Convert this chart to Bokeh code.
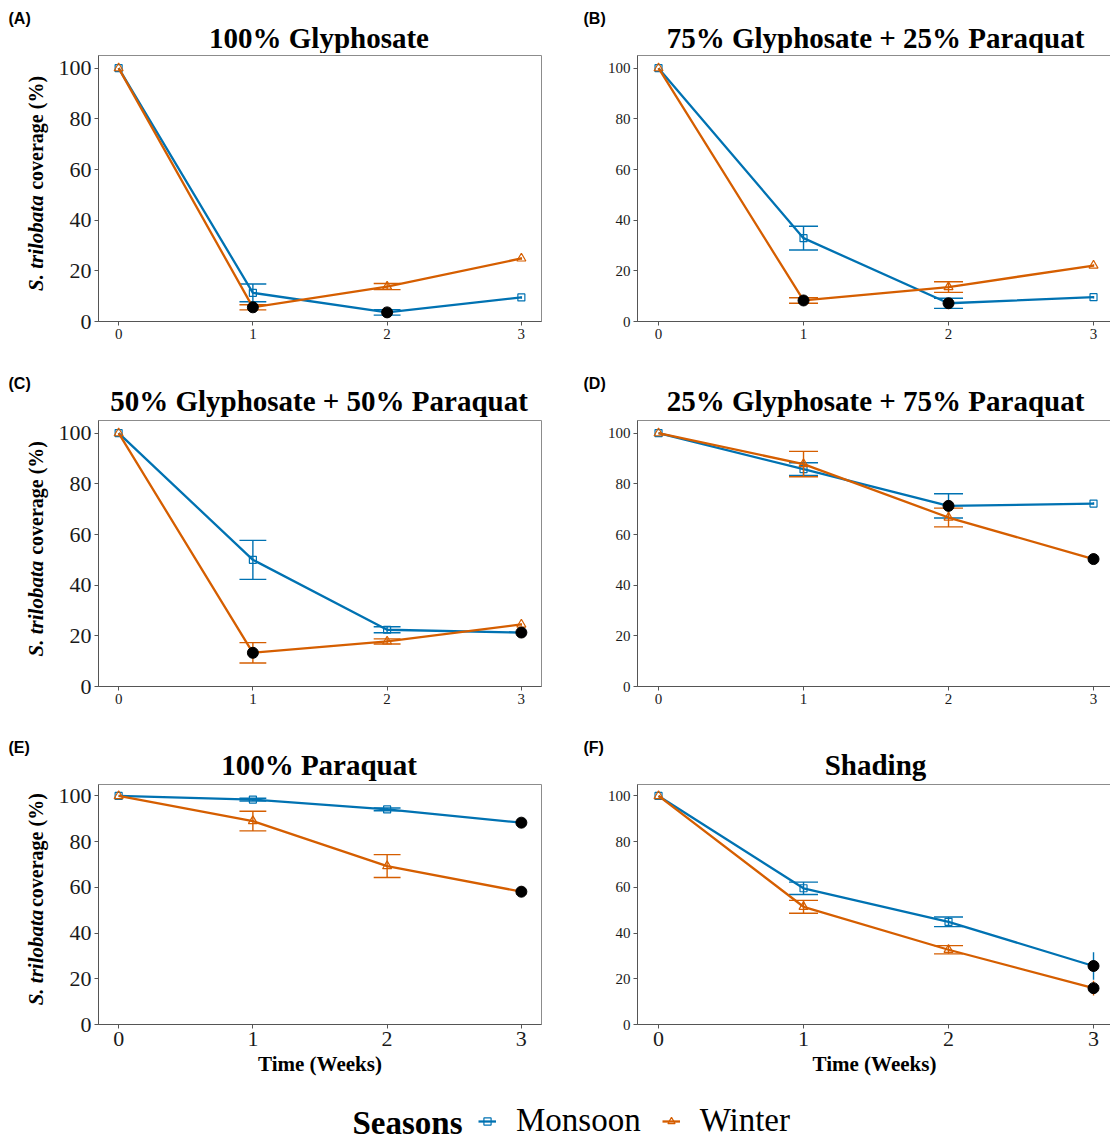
import math
from bokeh.plotting import figure
from bokeh.layouts import column, row
from bokeh.models import Range1d, FixedTicker, Label, Legend, LegendItem
from bokeh.embed import file_html
from bokeh.resources import INLINE

# ---------------- data ----------------
weeks = [0, 1, 2, 3]
y_ticks = [0, 20, 40, 60, 80, 100]
panel_tags = ["(A)", "(B)", "(C)", "(D)", "(E)", "(F)"]
titles = ["100% Glyphosate", "75% Glyphosate + 25% Paraquat",
          "50% Glyphosate + 50% Paraquat", "25% Glyphosate + 75% Paraquat",
          "100% Paraquat", "Shading"]
seasons = ["Monsoon", "Winter"]
y_label_italic = "S. trilobata"
y_label_plain = "coverage (%)"
x_label = "Time (Weeks)"
legend_title = "Seasons"

A_monsoon = [100, 11.3, 3.6, 9.5]
A_monsoon_se = [0, 3.5, 1.1, 0.5]
A_winter = [100, 5.6, 13.8, 24.9]
A_winter_se = [0, 1.0, 1.2, 0.5]
A_marked = [("Winter", 1), ("Monsoon", 2)]

B_monsoon = [100, 32.9, 7.2, 9.6]
B_monsoon_se = [0, 4.7, 2.0, 0.5]
B_winter = [100, 8.3, 13.6, 22.1]
B_winter_se = [0, 1.1, 2.1, 0.5]
B_marked = [("Winter", 1), ("Monsoon", 2)]

C_monsoon = [100, 50.0, 22.4, 21.3]
C_monsoon_se = [0, 7.7, 1.2, 0.5]
C_winter = [100, 13.3, 17.8, 24.5]
C_winter_se = [0, 4.0, 1.0, 0.5]
C_marked = [("Winter", 1), ("Monsoon", 3)]

D_monsoon = [100, 85.8, 71.3, 72.2]
D_monsoon_se = [0, 2.5, 4.8, 0.5]
D_winter = [100, 87.8, 66.7, 50.3]
D_winter_se = [0, 5.0, 3.7, 0.5]
D_marked = [("Monsoon", 2), ("Winter", 3)]

E_monsoon = [100, 98.4, 94.1, 88.3]
E_monsoon_se = [0, 0.6, 0.6, 0.5]
E_winter = [100, 89.0, 69.3, 58.1]
E_winter_se = [0, 4.3, 5.0, 0.5]
E_marked = [("Monsoon", 3), ("Winter", 3)]

F_monsoon = [100, 59.6, 44.9, 25.6]
F_monsoon_se = [0, 2.7, 2.1, 6.0]
F_winter = [100, 51.5, 32.7, 15.9]
F_winter_se = [0, 2.8, 1.8, 3.2]
F_marked = [("Monsoon", 3), ("Winter", 3)]

panels = [
    (A_monsoon, A_monsoon_se, A_winter, A_winter_se, A_marked),
    (B_monsoon, B_monsoon_se, B_winter, B_winter_se, B_marked),
    (C_monsoon, C_monsoon_se, C_winter, C_winter_se, C_marked),
    (D_monsoon, D_monsoon_se, D_winter, D_winter_se, D_marked),
    (E_monsoon, E_monsoon_se, E_winter, E_winter_se, E_marked),
    (F_monsoon, F_monsoon_se, F_winter, F_winter_se, F_marked),
]

# ---------------- style ----------------
BLUE = "#0072B2"
ORANGE = "#D55E00"
SERIF = "Liberation Serif"
SANS = "Liberation Sans"
AXIS_COL = "#555555"
CAP = 0.1
TOTAL_W = 1110
SIDE_W = 55
STRIP_H = 53
FRAME_H = [266, 266, 240]
BOTTOM_B = [44, 43, 61]
ITALIC_SHIFT = [29, 29, 36]
TOP_B = 2
LEGEND_H = 54


def blank_fig(w, h):
    f = figure(width=w, height=h, min_border=0, x_range=Range1d(0, w), y_range=Range1d(0, h),
               x_axis_location=None, y_axis_location=None,
               output_backend="svg", toolbar_location=None)
    f.xgrid.visible = False
    f.ygrid.visible = False
    f.outline_line_color = None
    return f


def draw_series(p, means, ses, color, marker, msize):
    p.line(weeks, means, line_color=color, line_width=2.3)
    lo = [m - s for m, s in zip(means, ses)]
    hi = [m + s for m, s in zip(means, ses)]
    p.segment(x0=weeks, y0=lo, x1=weeks, y1=hi, line_color=color, line_width=1.4)
    keep = [k for k, (w, s) in enumerate(zip(weeks, ses)) if s > 0 and w < weeks[-1]]
    cw = [weeks[k] for k in keep]
    for ys in ([lo[k] for k in keep], [hi[k] for k in keep]):
        p.segment(x0=[w - CAP for w in cw], y0=ys, x1=[w + CAP for w in cw], y1=ys,
                  line_color=color, line_width=1.4)
    p.scatter(weeks, means, marker=marker, size=msize, fill_alpha=0,
              line_color=color, line_width=1.2)


def make_panel(i):
    mon, mon_se, win, win_se, marked = panels[i]
    r = i // 2
    left_col = (i % 2 == 0)
    bottom_row = (r == 2)
    if left_col:
        mbl, fw, mbr = 97 - SIDE_W, 443, 15
        xr = Range1d(-0.15, 3.15)
        ysize = "22px"
    else:
        mbl, fw, mbr = 81, 474, 0
        xr = Range1d(-0.145, 3.124)
        ysize = "15px"
    p = figure(frame_width=fw, frame_height=FRAME_H[r], min_border_left=mbl, min_border_right=mbr,
               min_border_top=TOP_B, min_border_bottom=BOTTOM_B[r], x_range=xr,
               y_range=Range1d(0, 105), output_backend="svg", toolbar_location=None)
    p.xgrid.visible = False
    p.ygrid.visible = False
    p.outline_line_color = "#8c8c8c"
    p.outline_line_width = 1

    p.xaxis.ticker = FixedTicker(ticks=weeks)
    p.yaxis.ticker = FixedTicker(ticks=y_ticks)
    for ax in (p.xaxis[0], p.yaxis[0]):
        ax.axis_line_color = AXIS_COL
        ax.major_tick_line_color = AXIS_COL
        ax.major_tick_out = 4
        ax.major_tick_in = 0
        ax.minor_tick_line_color = None
        ax.major_label_text_font = SERIF
        ax.major_label_text_color = "#1a1a1a"
        ax.major_label_standoff = 3
    p.yaxis.major_label_text_font_size = ysize
    p.xaxis.major_label_text_font_size = "22px" if bottom_row else "15px"
    if bottom_row:
        p.xaxis.axis_label = x_label
        p.xaxis.axis_label_text_font = SERIF
        p.xaxis.axis_label_text_font_style = "bold"
        p.xaxis.axis_label_text_font_size = "21px"
        p.xaxis.axis_label_text_color = "black"
        p.xaxis.axis_label_standoff = 3

    series = {"Monsoon": (mon, mon_se), "Winter": (win, win_se)}
    draw_series(p, mon, mon_se, BLUE, "square", 7)
    draw_series(p, win, win_se, ORANGE, "triangle", 9)

    dx = [w for s, w in marked]
    dy = [series[s][0][weeks.index(w)] for s, w in marked]
    p.scatter(dx, dy, marker="circle", size=11, fill_color="black", line_color="black")
    return p


def make_strip(r):
    s = blank_fig(TOTAL_W, STRIP_H)
    mid = 16 if r == 0 else 17.5
    # left panel frame spans x 97..540 ; right panel frame 636..1114
    centers = [(97 + 540) / 2.0, (636 + 1114) / 2.0]
    tag_x = [8, 583]
    for c in range(2):
        i = 2 * r + c
        s.add_layout(Label(x=centers[c], y=mid, text=titles[i], text_font=SERIF,
                           text_font_style="bold", text_font_size="29px", text_align="center",
                           text_baseline="middle", text_color="black"))
        s.add_layout(Label(x=tag_x[c], y=35, text=panel_tags[i], text_font=SANS,
                           text_font_style="bold", text_font_size="16px", text_align="left",
                           text_baseline="middle", text_color="black"))
    return s


def make_side(r):
    h = TOP_B + FRAME_H[r] + BOTTOM_B[r]
    s = blank_fig(SIDE_W, h)
    cy = h - (TOP_B + FRAME_H[r] / 2.0)
    # both parts anchored at their upper end (text reads bottom -> top)
    s.add_layout(Label(x=35, y=cy - ITALIC_SHIFT[r], angle=math.pi / 2, text=y_label_italic,
                       text_font=SERIF, text_font_style="bold italic", text_font_size="21px",
                       text_align="right", text_baseline="middle", text_color="black"))
    s.add_layout(Label(x=35, y=cy + 111, angle=math.pi / 2, text=y_label_plain, text_font=SERIF,
                       text_font_style="bold", text_font_size="20px",
                       text_align="right", text_baseline="middle", text_color="black"))
    return s


figs = [make_panel(i) for i in range(6)]

rows = []
for r in range(3):
    rows.append(make_strip(r))
    rows.append(row(make_side(r), figs[2 * r], figs[2 * r + 1]))

# ---------------- legend strip ----------------
lf = blank_fig(TOTAL_W, LEGEND_H)
hidden_y = [-100] * len(weeks)
r1 = lf.line(weeks, hidden_y, line_color=BLUE, line_width=2.3)
r1s = lf.scatter(weeks, hidden_y, marker="square", size=7, fill_alpha=0, line_color=BLUE, line_width=1.2)
r2 = lf.line(weeks, hidden_y, line_color=ORANGE, line_width=2.3)
r2s = lf.scatter(weeks, hidden_y, marker="triangle", size=9, fill_alpha=0, line_color=ORANGE, line_width=1.2)
leg = Legend(items=[LegendItem(label=seasons[0], renderers=[r1, r1s]),
                    LegendItem(label=seasons[1], renderers=[r2, r2s])],
             orientation="horizontal", location=(478, 0))
leg.glyph_width = 18
leg.glyph_height = 20
leg.label_standoff = 20
leg.spacing = 21
leg.padding = 0
leg.margin = 0
leg.label_text_font = SERIF
leg.label_text_font_size = "33px"
leg.label_text_color = "black"
leg.border_line_color = None
leg.background_fill_alpha = 0
lf.add_layout(leg)
lf.add_layout(Label(x=352, y=17, text=legend_title, text_font=SERIF, text_font_style="bold",
                    text_font_size="33px", text_align="left", text_baseline="middle",
                    text_color="black"))
rows.append(lf)

layout = column(*rows)
open("out.html", "w").write(file_html(layout, INLINE))
